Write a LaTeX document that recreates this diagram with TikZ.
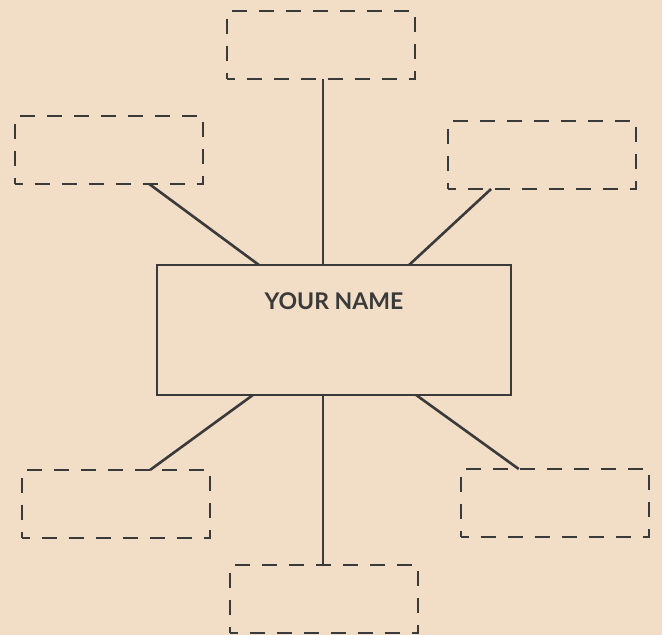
\documentclass[tikz,border=0pt]{standalone}
\usepackage{fontspec}
\setmainfont{Lato}
\usetikzlibrary{calc}
\definecolor{bg}{HTML}{F2DDC6}
\definecolor{ink}{HTML}{3A3A3A}
\tikzset{
  dbox/.style={draw=ink, line width=2.8pt, dash pattern=on 15pt off 12pt, dash phase=7.5pt,
    minimum width=188pt, minimum height=68pt, inner sep=0pt, outer sep=0pt},
  mainbox/.style={draw=ink, line width=2.8pt, minimum width=354pt, minimum height=130pt, inner sep=0pt, outer sep=0pt},
  conn/.style={draw=ink, line width=2.6pt},
  nametext/.style={text=ink, font=\fontsize{23}{27}\selectfont\bfseries}
}
\begin{document}
\begin{tikzpicture}[x=1pt,y=-1pt]
\fill[bg] (0,0) rectangle (662,635);
\useasboundingbox (0,0) rectangle (662,635);
\node[mainbox, label={[nametext, anchor=center, yshift=-36pt]north:YOUR NAME}] (c) at (334,330) {};
\node[dbox] (t) at (321,45) {};
\node[dbox] (tl) at (109,150) {};
\node[dbox] (tr) at (542,155) {};
\node[dbox] (bl) at (116,504) {};
\node[dbox] (br) at (555,503) {};
\node[dbox] (b) at (324,599) {};
\coordinate (ct) at ($(c.north west)!0.469!(c.north east)$);
\coordinate (cb) at ($(c.south west)!0.469!(c.south east)$);
\draw[conn] (ct) -- (ct |- t.south);
\draw[conn] ($(c.north west)!0.288!(c.north east)$) -- ($(tl.south west)!0.714!(tl.south east)$);
\draw[conn] ($(c.north west)!0.712!(c.north east)$) -- ($(tr.south west)!0.229!(tr.south east)$);
\draw[conn] ($(c.south west)!0.271!(c.south east)$) -- ($(bl.north west)!0.681!(bl.north east)$);
\draw[conn] (cb) -- (cb |- b.north);
\draw[conn] ($(c.south west)!0.732!(c.south east)$) -- ($(br.north west)!0.307!(br.north east)$);
\end{tikzpicture}
\end{document}
